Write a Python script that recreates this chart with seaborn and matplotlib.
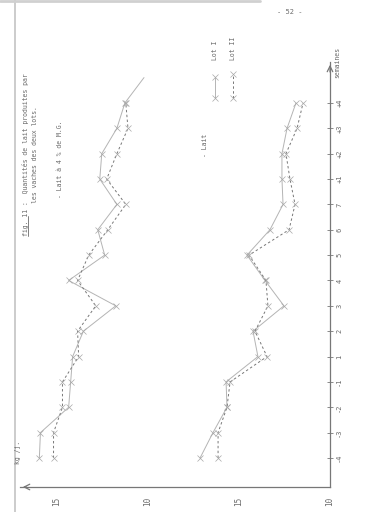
import numpy as np
import pandas as pd
import matplotlib
matplotlib.use("Agg")
import matplotlib.pyplot as plt
import seaborn as sns
from matplotlib.lines import Line2D

# ---------------- data ----------------
weeks = ["-4", "-3", "-2", "-1", "1", "2", "3", "4", "5", "6", "7", "+1", "+2", "+3", "+4"]
value_ticks = [10, 15, 20, 25]
value_tick_labels = ["10", "15", "10", "15"]

# Lait à 4 % de M.G. (upper block, plotted with an offset of 10 on the stacked scale)
lait4_lot1 = [15.97, 15.91, 14.36, 14.25, 14.14, 13.55, 11.77, 14.36, 12.38, 12.76,
              11.71, 12.65, 12.54, 11.71, 11.27, 10.22]
lait4_lot2 = [15.19, 15.19, 14.70, 14.70, 13.81, 13.87, 12.87, 13.87, 13.26, 12.21,
              11.22, 12.27, 11.71, 11.10, 11.22]
# Lait (lower block)
lait_lot1 = [17.14, 16.43, 15.66, 15.71, 13.96, 14.23, 12.53, 13.57, 14.56, 13.30,
             12.58, 12.64, 12.64, 12.36, 11.87]
lait_lot2 = [16.15, 16.15, 15.66, 15.49, 13.46, 14.12, 13.41, 13.52, 14.45, 12.25,
             11.92, 12.20, 12.42, 11.81, 11.48]
upper_offset = 10

# ---------------- style ----------------
sns.set_style("white")
plt.rcParams['font.family'] = ['DejaVu Sans Mono']

W, H = 377, 512
fig = plt.figure(figsize=(W / 100, H / 100), dpi=100)
fig.patch.set_facecolor("white")


def fx(x):
    return x / W


def fy(y):
    return 1 - y / H


AX_COL = "#777777"
TXT_COL = "#6a6a6a"
SOLID_COL = "#b4b4b4"
DASH_COL = "#777777"
MARK_COL = "#a8a8a8"

ax = fig.add_axes([fx(20), fy(487), fx(330) - fx(20), fy(62) - fy(487)])
ax.set_facecolor("none")


def draw(values, offset, color, ls, n_markers):
    df = pd.DataFrame({"pos": np.arange(len(values)),
                       "val": np.asarray(values) + offset})
    sns.lineplot(data=df, x="val", y="pos", orient="y", estimator=None,
                 color=color, linestyle=ls, lw=0.7, marker="x", markersize=4.5,
                 markeredgewidth=0.5, markeredgecolor=MARK_COL,
                 markevery=list(range(n_markers)), ax=ax)


draw(lait4_lot1, upper_offset, SOLID_COL, "-", len(weeks))
draw(lait4_lot2, upper_offset, DASH_COL, (0, (2.5, 2.5)), len(weeks))
draw(lait_lot1, 0, SOLID_COL, "-", len(weeks))
draw(lait_lot2, 0, DASH_COL, (0, (2.5, 2.5)), len(weeks))

ax.set_xlim(10 + 310 / 18.2, 10)
ax.set_ylim((458 - 487) / 25.36, (458 - 62) / 25.36)

for s in ["top", "left"]:
    ax.spines[s].set_visible(False)
for s in ["right", "bottom"]:
    ax.spines[s].set_color(AX_COL)
    ax.spines[s].set_linewidth(0.9)

ax.yaxis.tick_right()
ax.set_yticks(range(len(weeks)))
ax.set_yticklabels(weeks, rotation=90, va="center", ha="left")
ax.set_xticks(value_ticks)
ax.set_xticklabels(value_tick_labels, rotation=90, ha="center", va="top")
ax.tick_params(axis="y", direction="inout", length=5, width=0.6, colors=AX_COL,
               labelcolor=TXT_COL, labelsize=5, pad=2)
ax.tick_params(axis="x", direction="inout", length=6, width=0.6, colors=AX_COL,
               labelcolor=TXT_COL, labelsize=5.5, pad=4)
ax.set_xlabel("")
ax.set_ylabel("")

# axis arrows
ax.annotate("", xy=(1, 1.0), xytext=(1, 0.97), xycoords="axes fraction",
            arrowprops=dict(arrowstyle="->", color=AX_COL, lw=0.9))
ax.annotate("", xy=(0, 0), xytext=(0.03, 0), xycoords="axes fraction",
            arrowprops=dict(arrowstyle="->", color=AX_COL, lw=0.9))


def vtext(x, y, s, size=4.7, **kw):
    fig.text(fx(x), fy(y), s, rotation=90, rotation_mode="anchor",
             ha="left", va="center", fontsize=size, color=TXT_COL, **kw)


# titles and labels (rotated page)
vtext(25, 236, "fig. 11 :  Quantités de lait produites par")
fig.add_artist(Line2D([fx(28), fx(28)], [fy(236), fy(216)], color=TXT_COL, lw=0.6))
vtext(35, 203, "les vaches des deux lots.")
vtext(60, 198, "- Lait à 4 % de M.G.")
vtext(205, 157, "- Lait")
vtext(337, 78, "semaines")
vtext(18, 464, "kg /j.")

# legend drawn as on the page
fig.add_artist(Line2D([fx(215), fx(215)], [fy(98), fy(77)], color=SOLID_COL, lw=0.7,
                      marker="x", markersize=4.5, markeredgewidth=0.5,
                      markeredgecolor=MARK_COL))
vtext(215, 60, "Lot I")
fig.add_artist(Line2D([fx(233), fx(233)], [fy(98), fy(74)], color=DASH_COL, lw=0.7,
                      linestyle=(0, (2.5, 2.5)), marker="x", markersize=4.5,
                      markeredgewidth=0.5, markeredgecolor=MARK_COL))
vtext(233, 60, "Lot II")

# page number
fig.text(fx(290), fy(12), "- 52 -", ha="center", va="center", fontsize=5,
         color=TXT_COL)

# scan edges
fig.add_artist(Line2D([fx(15), fx(15)], [0, 1], color="#c4c4c4", lw=1.2))
fig.add_artist(Line2D([0, fx(260)], [fy(1), fy(1)], color="#d0d0d0", lw=2.0))

fig.savefig("out.png", dpi=100, facecolor="white")
